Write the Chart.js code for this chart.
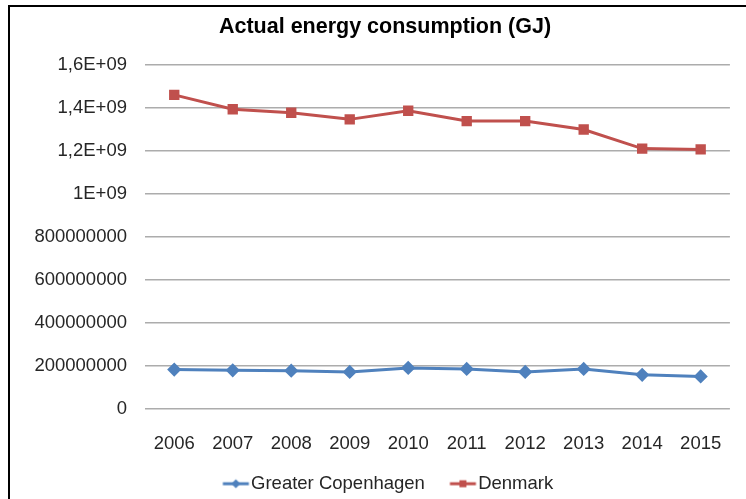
<!DOCTYPE html>
<html>
<head>
<meta charset="utf-8">
<script src="https://cdn.jsdelivr.net/npm/chart.js@4/dist/chart.umd.min.js"></script>
<style>
  html, body { margin: 0; padding: 0; background: #fff; }
  #wrap { position: relative; width: 746px; height: 499px; }
  #frame { position: absolute; left: 8px; top: 5px; right: -10px; bottom: -10px; border-left: 2px solid #000; border-top: 2px solid #000; pointer-events: none; }
  canvas { position: absolute; left: 0; top: 0; }
</style>
</head>
<body>
<div id="wrap">
  <canvas id="chart" width="746" height="499"></canvas>
  <div id="frame"></div>
</div>
<script>
const years = ["2006", "2007", "2008", "2009", "2010", "2011", "2012", "2013", "2014", "2015"];
const copenhagen = [181e6, 178e6, 176e6, 170e6, 189e6, 184e6, 170e6, 184e6, 157e6, 149e6];
const denmark = [1.460e9, 1.393e9, 1.377e9, 1.346e9, 1.386e9, 1.338e9, 1.338e9, 1.299e9, 1.210e9, 1.206e9];

const blue = "#4F81BD";
const red = "#C0504D";
const font = "'Liberation Sans', Arial, sans-serif";

// legend sample: short line with the marker in the middle,
// drawn off-centre in a wider canvas so the text sits close to it
function legendIcon(color, shape) {
  const c = document.createElement("canvas");
  c.width = 50;
  c.height = 12;
  const g = c.getContext("2d");
  const x0 = 18.5;
  g.strokeStyle = color;
  g.lineWidth = 3;
  g.beginPath();
  g.moveTo(x0, 6);
  g.lineTo(x0 + 26, 6);
  g.stroke();
  g.fillStyle = color;
  g.beginPath();
  const m = x0 + 13;
  if (shape === "diamond") {
    g.moveTo(m, 1.5); g.lineTo(m + 4.5, 6); g.lineTo(m, 10.5); g.lineTo(m - 4.5, 6);
  } else {
    g.rect(m - 3.5, 2.5, 7, 7);
  }
  g.fill();
  return c;
}

function yLabel(v) {
  if (v >= 1e9) return String(Math.round(v / 1e8) / 10).replace(".", ",") + "E+09";
  return String(Math.round(v));
}

// title and legend are centred on the whole frame, not the canvas
const shiftCentre = {
  id: "shiftCentre",
  afterLayout(chart) {
    if (chart.titleBlock) chart.titleBlock.left += 39;
    if (chart.legend) chart.legend.left += 39;
  },
};

const ctx = document.getElementById("chart").getContext("2d");

new Chart(ctx, {
  type: "line",
  data: {
    labels: years,
    datasets: [
      {
        label: "Greater Copenhagen",
        data: copenhagen,
        borderColor: blue,
        backgroundColor: blue,
        borderWidth: 3,
        pointStyle: "rectRot",
        pointRadius: 5,
        pointHoverRadius: 5,
        legendIcon: legendIcon(blue, "diamond"),
      },
      {
        label: "Denmark",
        data: denmark,
        borderColor: red,
        backgroundColor: red,
        borderWidth: 3,
        pointStyle: "rect",
        pointRadius: 5.2,
        pointHoverRadius: 5.2,
        legendIcon: legendIcon(red, "square"),
      },
    ],
  },
  options: {
    responsive: false,
    animation: false,
    layout: {
      padding: { left: 0, right: 15, top: 0, bottom: -4 },
    },
    scales: {
      x: {
        offset: true,
        grid: { display: false, drawTicks: false },
        border: { display: false },
        ticks: { color: "#262626", font: { family: font, size: 18.5 }, padding: 24, maxRotation: 0 },
        afterFit: axis => { axis.height = 47; },
      },
      y: {
        min: 0,
        max: 1.6e9,
        grid: { color: "#ACACAC", lineWidth: 1.5, drawTicks: false },
        border: { display: false },
        ticks: { stepSize: 2e8, color: "#262626", font: { family: font, size: 18.5 }, padding: 18, callback: yLabel },
        afterFit: axis => { axis.width = 145; },
      },
    },
    plugins: {
      title: {
        display: true,
        text: "Actual energy consumption (GJ)",
        color: "#000",
        font: { family: font, size: 21.5, weight: "bold" },
        padding: { top: 14, bottom: 25 },
      },
      legend: {
        position: "bottom",
        labels: {
          usePointStyle: true,
          pointStyleWidth: 25,
          padding: 19,
          color: "#262626",
          font: { family: font, size: 18.5 },
          generateLabels: chart =>
            chart.data.datasets.map((ds, i) => ({
              text: ds.label,
              pointStyle: ds.legendIcon,
              fillStyle: ds.borderColor,
              strokeStyle: ds.borderColor,
              lineWidth: 0,
              datasetIndex: i,
              fontColor: "#262626",
            })),
        },
      },
      tooltip: { enabled: false },
    },
  },
  plugins: [shiftCentre],
});
</script>
</body>
</html>
